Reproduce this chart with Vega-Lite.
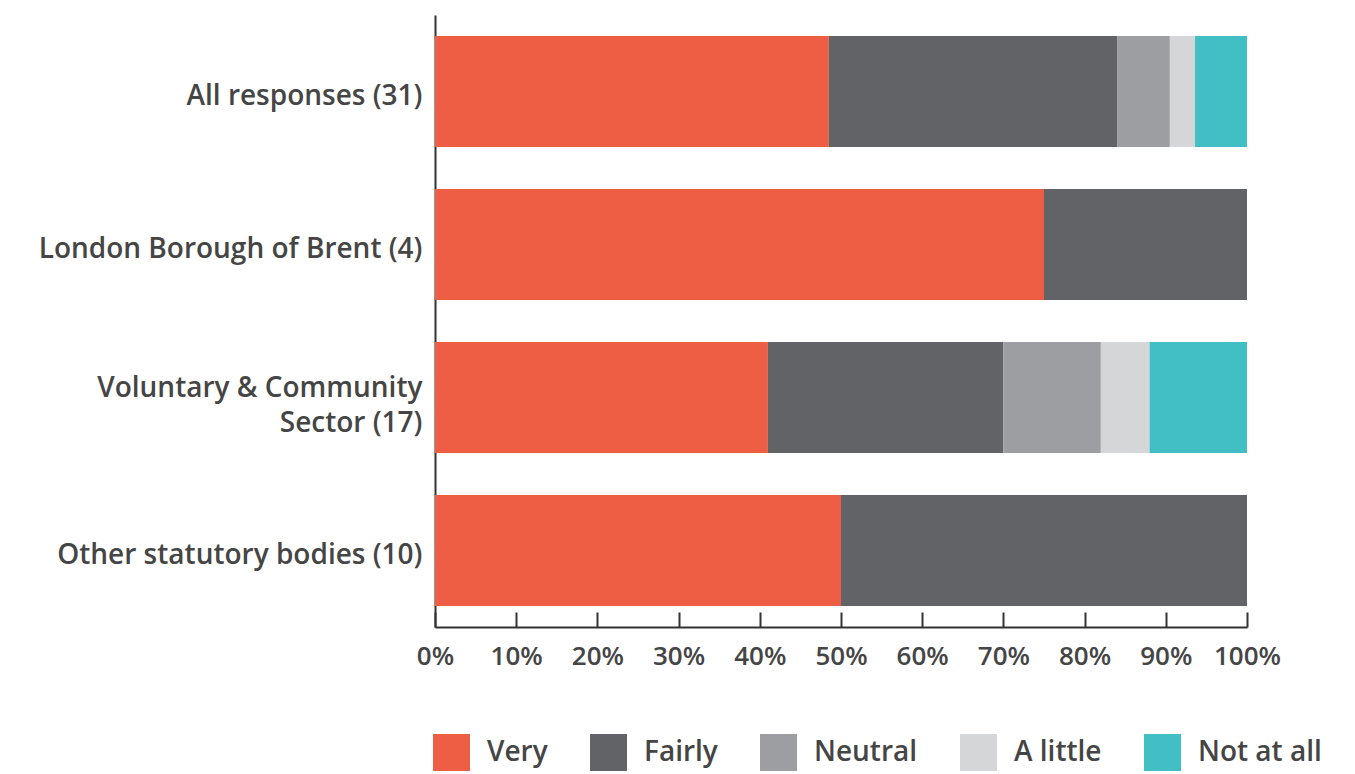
{
  "$schema": "https://vega.github.io/schema/vega-lite/v6.json",
  "width": 812,
  "height": 612,
  "autosize": "none",
  "padding": {"left": 435, "top": 15, "right": 108, "bottom": 147},
  "background": "white",
  "config": {
    "view": {"stroke": null},
    "font": "Open Sans",
    "text": {"font": "Open Sans"}
  },
  "data": {
    "values": [
      {"group": "All responses (31)", "response": "Very", "ord": 1, "pct": 48.5},
      {"group": "All responses (31)", "response": "Fairly", "ord": 2, "pct": 35.5},
      {"group": "All responses (31)", "response": "Neutral", "ord": 3, "pct": 6.5},
      {"group": "All responses (31)", "response": "A little", "ord": 4, "pct": 3.1},
      {"group": "All responses (31)", "response": "Not at all", "ord": 5, "pct": 6.4},
      {"group": "London Borough of Brent (4)", "response": "Very", "ord": 1, "pct": 75},
      {"group": "London Borough of Brent (4)", "response": "Fairly", "ord": 2, "pct": 25},
      {"group": "Voluntary & Community Sector (17)", "response": "Very", "ord": 1, "pct": 41},
      {"group": "Voluntary & Community Sector (17)", "response": "Fairly", "ord": 2, "pct": 29},
      {"group": "Voluntary & Community Sector (17)", "response": "Neutral", "ord": 3, "pct": 12},
      {"group": "Voluntary & Community Sector (17)", "response": "A little", "ord": 4, "pct": 6},
      {"group": "Voluntary & Community Sector (17)", "response": "Not at all", "ord": 5, "pct": 12},
      {"group": "Other statutory bodies (10)", "response": "Very", "ord": 1, "pct": 50},
      {"group": "Other statutory bodies (10)", "response": "Fairly", "ord": 2, "pct": 50}
    ]
  },
  "mark": {"type": "bar"},
  "encoding": {
    "y": {
      "field": "group",
      "type": "nominal",
      "sort": ["All responses (31)", "London Borough of Brent (4)", "Voluntary & Community Sector (17)", "Other statutory bodies (10)"],
      "scale": {"paddingInner": 0.275, "paddingOuter": 0.1375},
      "axis": {
        "title": null,
        "ticks": false,
        "domainColor": "#333333",
        "domainWidth": 2,
        "labelFontSize": 28,
        "labelFontWeight": 600,
        "labelColor": "#454545",
        "labelPadding": 13,
        "labelLimit": 500,
        "labelLineHeight": 35,
        "labelOffset": {"condition": {"test": "datum.value == 'Voluntary & Community Sector (17)'", "value": -9}, "value": 5},
        "labelExpr": "datum.value == 'Voluntary & Community Sector (17)' ? ['Voluntary & Community', 'Sector (17)'] : datum.label"
      }
    },
    "x": {
      "field": "pct",
      "type": "quantitative",
      "stack": "zero",
      "scale": {"domain": [0, 100], "nice": false},
      "axis": {
        "title": null,
        "values": [0, 10, 20, 30, 40, 50, 60, 70, 80, 90, 100],
        "labelExpr": "datum.value + '%'",
        "grid": false,
        "domainColor": "#333333",
        "domainWidth": 2,
        "tickColor": "#333333",
        "tickWidth": 2,
        "tickSize": -15,
        "labelPadding": 31,
        "labelFontSize": 26,
        "labelFontWeight": 600,
        "labelColor": "#454545",
        "labelFlush": false
      }
    },
    "color": {
      "field": "response",
      "type": "nominal",
      "scale": {
        "domain": ["Very", "Fairly", "Neutral", "A little", "Not at all"],
        "range": ["#EE5E45", "#626367", "#9D9EA2", "#D5D6D8", "#42BFC5"]
      },
      "legend": {
        "title": null,
        "orient": "none",
        "direction": "horizontal",
        "legendX": -2,
        "legendY": 719,
        "symbolType": "square",
        "symbolSize": 1369,
        "symbolStrokeWidth": 0,
        "symbolOpacity": 1,
        "labelFontSize": 28,
        "labelFontWeight": 600,
        "labelColor": "#454545",
        "labelOffset": 17,
        "columnPadding": 42,
        "labelLimit": 300
      }
    },
    "order": {"field": "ord", "type": "quantitative"}
  }
}
